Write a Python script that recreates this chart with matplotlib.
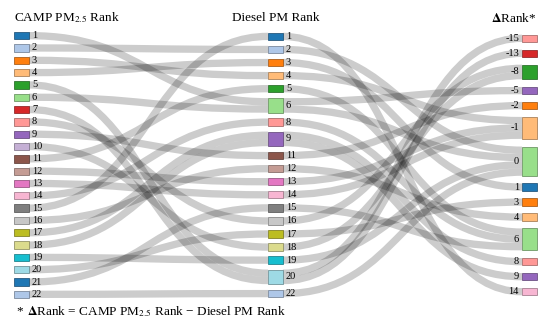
import matplotlib.pyplot as plt
from matplotlib.path import Path
from matplotlib.patches import PathPatch, Rectangle
from matplotlib import colors as mcolors
from collections import Counter

plt.rcParams['font.family'] = ['Liberation Serif', 'DejaVu Serif']
plt.rcParams['mathtext.fontset'] = 'stix'

# CAMP PM2.5 rank of each site and the diesel PM rank of the same site
camp_rank = list(range(1, 23))
diesel_rank = [6, 2, 4, 3, 20, 6, 20, 16, 11, 18, 5, 13, 14, 8, 1, 12, 9, 9, 19, 17, 15, 22]
delta_rank = [c - d for c, d in zip(camp_rank, diesel_rank)]

column_titles = [r'CAMP PM$_{2.5}$ Rank', 'Diesel PM Rank', r'$\mathbf{\Delta}$Rank*']
footnote = r'$\mathbf{\Delta}$Rank = CAMP PM$_{2.5}$ Rank − Diesel PM Rank'

rank_palette = [mcolors.to_hex(c) for c in plt.cm.tab20.colors]
delta_palette = {-15: '#ff9896', -13: '#d62728', -8: '#2ca02c', -5: '#9467bd', -2: '#ff7f0e',
                 -1: '#ffbb78', 0: '#98df8a', 1: '#1f77b4', 3: '#ff7f0e', 4: '#ffbb78',
                 6: '#98df8a', 8: '#ff9896', 9: '#9467bd', 14: '#f7b6d2'}

# ---- sankey layout (justified columns, like d3-sankey before relaxation) ----
X0, X1, Y0, Y1 = 14, 537, 32, 298
NODE_W, PAD = 15, 5

def make_node(layer, name):
    return {'layer': layer, 'name': name, 'src': [], 'tgt': []}

cols = [[make_node(0, v) for v in sorted(set(camp_rank))],
        [make_node(1, v) for v in sorted(set(diesel_rank))],
        [make_node(2, v) for v in sorted(set(delta_rank))]]
lookup = [{n['name']: n for n in col} for col in cols]

links = []
def add_link(s, t, v):
    lk = {'source': s, 'target': t, 'value': v, 'index': len(links)}
    links.append(lk)
    s['src'].append(lk)
    t['tgt'].append(lk)

for c, d in zip(camp_rank, diesel_rank):
    add_link(lookup[0][c], lookup[1][d], 1)
for (d, r), v in sorted(Counter(zip(diesel_rank, delta_rank)).items()):
    add_link(lookup[1][d], lookup[2][r], v)

for col in cols:
    for n in col:
        n['value'] = max(sum(l['value'] for l in n['src']), sum(l['value'] for l in n['tgt']))

kx = (X1 - X0 - NODE_W) / (len(cols) - 1)
ky = min((Y1 - Y0 - (len(c) - 1) * PAD) / sum(n['value'] for n in c) for c in cols)
for col in cols:
    y = Y0
    for n in col:
        n['x0'] = X0 + n['layer'] * kx
        n['x1'] = n['x0'] + NODE_W
        n['y0'] = y
        n['y1'] = y + n['value'] * ky
        y = n['y1'] + PAD
    step = (Y1 - y + PAD) / (len(col) + 1)
    for i, n in enumerate(col):
        n['y0'] += step * (i + 1)
        n['y1'] += step * (i + 1)
for l in links:
    l['width'] = l['value'] * ky

# stack links inside each node, ordered by the other end's position
for col in cols:
    for n in col:
        n['src'].sort(key=lambda l: (l['target']['y0'], l['index']))
        n['tgt'].sort(key=lambda l: (l['source']['y0'], l['index']))
        y = n['y0']
        for l in n['src']:
            l['y0'] = y + l['width'] / 2
            y += l['width']
        y = n['y0']
        for l in n['tgt']:
            l['y1'] = y + l['width'] / 2
            y += l['width']

# ---- drawing ----
fig = plt.figure(figsize=(5.5, 3.23), dpi=100)
ax = fig.add_axes([0, 0, 1, 1])
ax.set_xlim(0, 550)
ax.set_ylim(323, 0)
ax.axis('off')

for l in links:
    xa, xb = l['source']['x1'], l['target']['x0']
    xm = (xa + xb) / 2
    path = Path([(xa, l['y0']), (xm, l['y0']), (xm, l['y1']), (xb, l['y1'])],
                [Path.MOVETO, Path.CURVE4, Path.CURVE4, Path.CURVE4])
    ax.add_patch(PathPatch(path, facecolor='none', edgecolor='black', alpha=0.2,
                           lw=l['width'] * 72 / fig.dpi, capstyle='butt', zorder=1))

def node_color(n):
    if n['layer'] == 2:
        return delta_palette[n['name']]
    return rank_palette[(n['name'] - 1) % 20]

for col in cols:
    for n in col:
        fc = node_color(n)
        ec = [v * 0.6 for v in mcolors.to_rgb(fc)]
        ax.add_patch(Rectangle((n['x0'], n['y0']), NODE_W, n['y1'] - n['y0'],
                               facecolor=fc, edgecolor=ec, lw=0.5, zorder=2))
        yc = (n['y0'] + n['y1']) / 2
        if n['layer'] < 2:
            ax.text(n['x1'] + 3, yc, str(n['name']), ha='left', va='center', fontsize=7.5)
        else:
            ax.text(n['x0'] - 3, yc, str(n['name']), ha='right', va='center', fontsize=7.5)

ax.text(cols[0][0]['x0'], 18, column_titles[0], ha='left', va='center', fontsize=9.5)
ax.text((cols[1][0]['x0'] + cols[1][0]['x1']) / 2, 18, column_titles[1],
        ha='center', va='center', fontsize=9.5)
ax.text(cols[2][0]['x1'], 18, column_titles[2], ha='right', va='center', fontsize=9.5)
ax.text(16, 311, '*', ha='left', va='center', fontsize=9.5)
ax.text(27, 312, footnote, ha='left', va='center', fontsize=9.5)

fig.savefig('out.png', dpi=100)
